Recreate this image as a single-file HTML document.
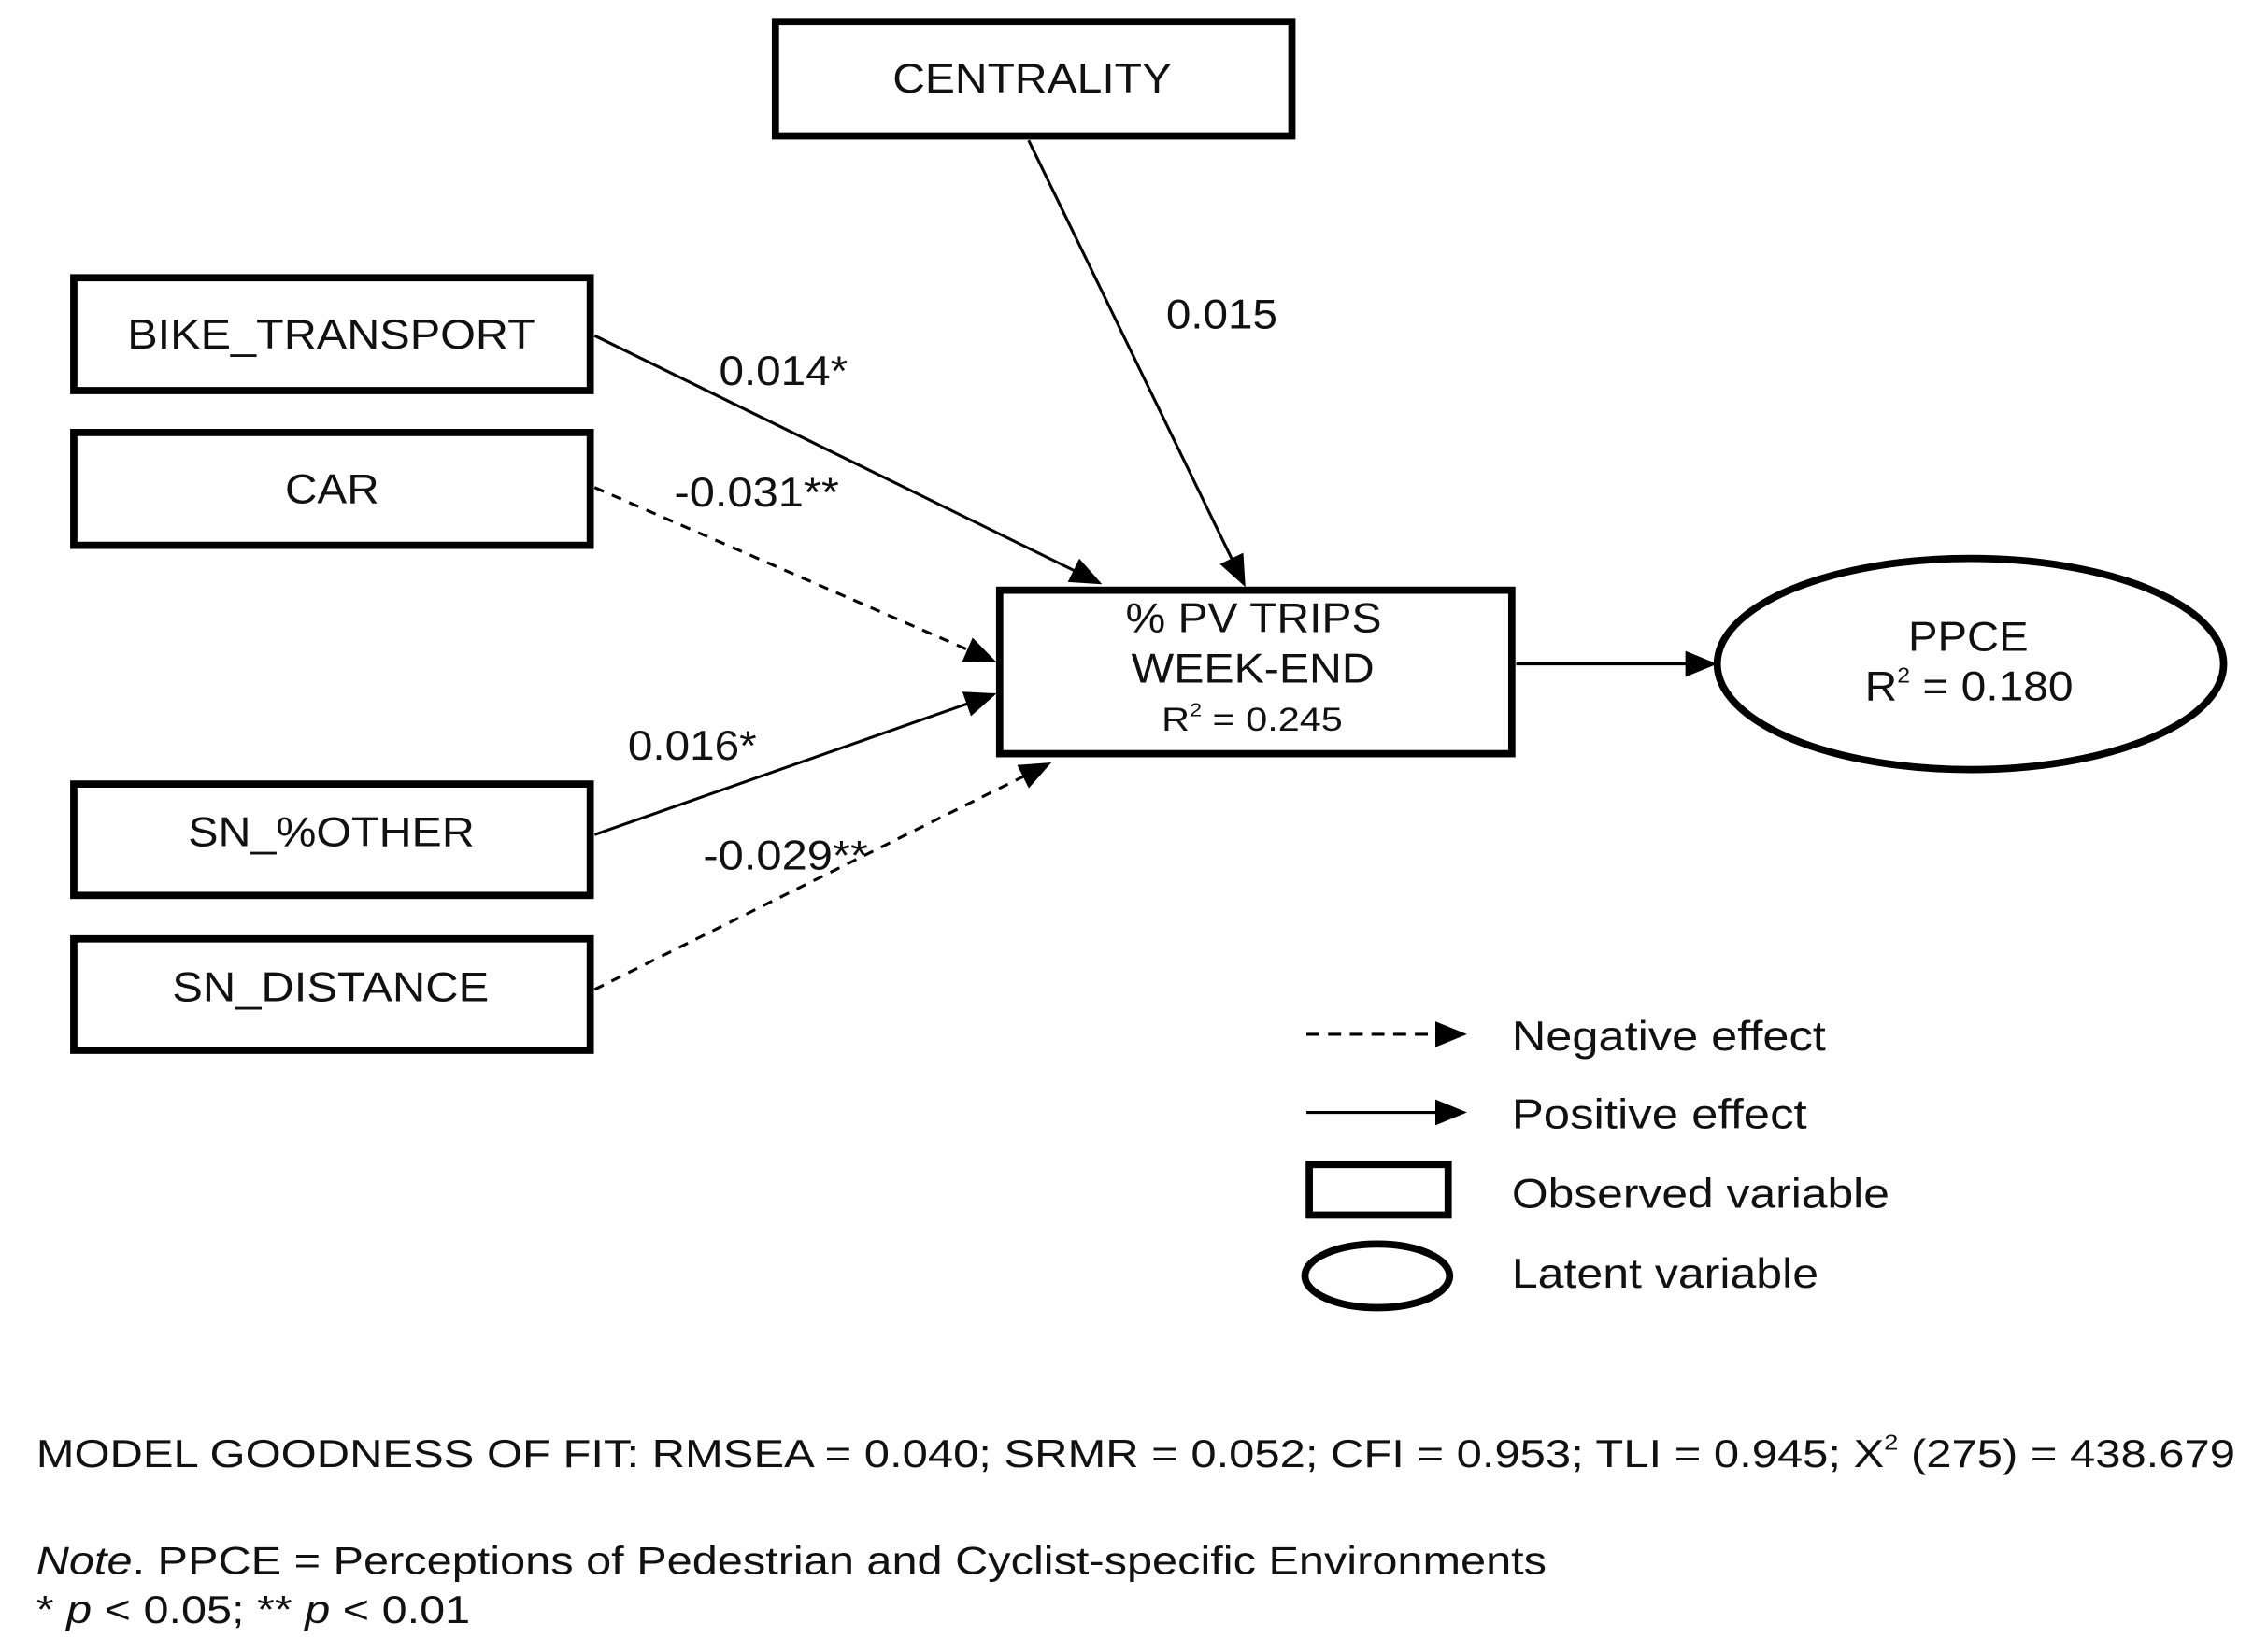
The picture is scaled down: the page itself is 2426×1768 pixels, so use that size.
<!DOCTYPE html>
<html><head><style>html,body{margin:0;padding:0;background:#fff}svg{display:block}</style></head>
<body>
<svg width="2426" height="1768" viewBox="0 0 1567 1142" preserveAspectRatio="none" xmlns="http://www.w3.org/2000/svg" font-family="Liberation Sans, sans-serif" fill="#111">
<defs>
<marker id="b" markerWidth="22" markerHeight="22" refX="20" refY="11" orient="auto" markerUnits="userSpaceOnUse" viewBox="0 0 22 22"><path d="M0,2 L22,11 L0,20 z" fill="#000"/></marker>
</defs>
<g fill="none" stroke="#000" stroke-width="5">
<rect x="536" y="15" width="357" height="79"/>
<rect x="51" y="192" width="357" height="78"/>
<rect x="51" y="299" width="357" height="78"/>
<rect x="51" y="542" width="357" height="77"/>
<rect x="51" y="649" width="357" height="77"/>
<rect x="691" y="408" width="354" height="113"/>
<ellipse cx="1362" cy="459" rx="175" ry="73"/>
<rect x="905" y="805" width="96" height="35"/>
<ellipse cx="952" cy="882" rx="50" ry="22"/>
</g>
<g stroke="#000" stroke-width="2" fill="none">
<line x1="711" y1="97" x2="860" y2="404" marker-end="url(#b)"/>
<line x1="411" y1="232" x2="760" y2="403" marker-end="url(#b)"/>
<line x1="411" y1="337" x2="687" y2="457" stroke-dasharray="7,6" marker-end="url(#b)"/>
<line x1="411" y1="577" x2="687" y2="480" marker-end="url(#b)"/>
<line x1="411" y1="684" x2="725" y2="528" stroke-dasharray="7,6" marker-end="url(#b)"/>
<line x1="1048" y1="459" x2="1185" y2="459" marker-end="url(#b)"/>
<line x1="903" y1="715" x2="1012" y2="715" stroke-dasharray="9,6" marker-end="url(#b)"/>
<line x1="903" y1="769" x2="1012" y2="769" marker-end="url(#b)"/>
</g>
<g font-size="29">
<text x="617" y="64" textLength="193" lengthAdjust="spacingAndGlyphs">CENTRALITY</text>
<text x="88" y="241" textLength="282" lengthAdjust="spacingAndGlyphs">BIKE_TRANSPORT</text>
<text x="197" y="348" textLength="65" lengthAdjust="spacingAndGlyphs">CAR</text>
<text x="130" y="585" textLength="198" lengthAdjust="spacingAndGlyphs">SN_%OTHER</text>
<text x="119" y="692" textLength="219" lengthAdjust="spacingAndGlyphs">SN_DISTANCE</text>
<text x="778" y="437" textLength="177" lengthAdjust="spacingAndGlyphs">% PV TRIPS</text>
<text x="782" y="472" textLength="168" lengthAdjust="spacingAndGlyphs">WEEK-END</text>
<text x="803" y="505" font-size="23" textLength="125" lengthAdjust="spacingAndGlyphs">R<tspan font-size="13" dy="-10">2</tspan><tspan dy="10"> = 0.245</tspan></text>
<text x="1319" y="450" textLength="83" lengthAdjust="spacingAndGlyphs">PPCE</text>
<text x="1289" y="484" textLength="144" lengthAdjust="spacingAndGlyphs">R<tspan font-size="15" dy="-12">2</tspan><tspan dy="12"> = 0.180</tspan></text>
<text x="806" y="227" textLength="77" lengthAdjust="spacingAndGlyphs">0.015</text>
<text x="497" y="266" textLength="89" lengthAdjust="spacingAndGlyphs">0.014*</text>
<text x="466" y="350" textLength="114" lengthAdjust="spacingAndGlyphs">-0.031**</text>
<text x="434" y="525" textLength="89" lengthAdjust="spacingAndGlyphs">0.016*</text>
<text x="486" y="601" textLength="114" lengthAdjust="spacingAndGlyphs">-0.029**</text>
<text x="1045" y="726" textLength="217" lengthAdjust="spacingAndGlyphs">Negative effect</text>
<text x="1045" y="780" textLength="204" lengthAdjust="spacingAndGlyphs">Positive effect</text>
<text x="1045" y="835" textLength="261" lengthAdjust="spacingAndGlyphs">Observed variable</text>
<text x="1045" y="890" textLength="212" lengthAdjust="spacingAndGlyphs">Latent variable</text>
<text x="25" y="1014" font-size="27" textLength="1520" lengthAdjust="spacingAndGlyphs">MODEL GOODNESS OF FIT: RMSEA = 0.040; SRMR = 0.052; CFI = 0.953; TLI = 0.945; X<tspan font-size="15" dy="-12">2</tspan><tspan dy="12"> (275) = 438.679</tspan></text>
<text x="25" y="1088" font-size="27" textLength="1044" lengthAdjust="spacingAndGlyphs"><tspan font-style="italic">Note</tspan>. PPCE = Perceptions of Pedestrian and Cyclist-specific Environments</text>
<text x="25" y="1122" font-size="27" textLength="300" lengthAdjust="spacingAndGlyphs">* <tspan font-style="italic">p</tspan> &lt; 0.05; ** <tspan font-style="italic">p</tspan> &lt; 0.01</text>
</g>
</svg>
</body></html>
